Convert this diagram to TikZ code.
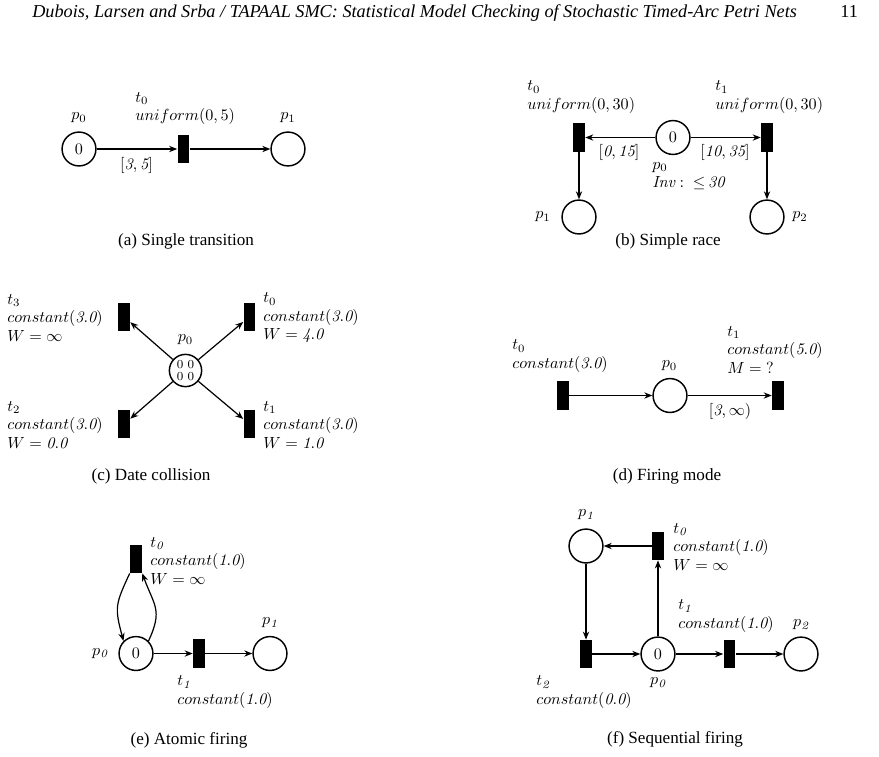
\documentclass[tikz,border=0pt]{standalone}
\usepackage{amsmath,amssymb}
\usepackage{fontspec}
\newfontfamily\capfont{Liberation Serif}
\usetikzlibrary{arrows.meta}

\begin{document}
\begin{tikzpicture}[
  x=0.62pt, y=-0.62pt,
  place/.style={circle, draw, line width=0.9pt, minimum size=21pt,
                inner sep=0pt},
  trans/.style={rectangle, fill=black, minimum width=7.4pt,
                minimum height=17.4pt, inner sep=0pt},
  flow/.style={-{Stealth[length=5pt,width=3.9pt]}, line width=0.75pt},
  lbl/.style={inner sep=0pt},
  infolbl/.style={inner sep=0pt, anchor=west, align=left,
                  font=\fontsize{10}{11.5}\selectfont},
  capt/.style={inner sep=0pt, font=\capfont\fontsize{10.6}{12}\selectfont},
  head/.style={inner sep=0pt, anchor=base west,
               font=\capfont\fontsize{11.3}{13}\selectfont}
]
  \useasboundingbox (0,0) rectangle (879,756);

  % page header
  \node[head] (title) at (32,17) {\itshape Dubois, Larsen and Srba / TAPAAL SMC: Statistical Model Checking of Stochastic Timed-Arc Petri Nets};
  \node[head] (pageno) at (840,17) {11};

  % (a) single transition
  \node[place] (aP0) at (79,149) {0};
  \node[trans] (aT0) at (183.5,149) {};
  \node[place] (aP1) at (288,149) {};
  \node[lbl] (aP0n) at (79,118) {$p_0$};
  \node[lbl] (aP1n) at (288,118) {$p_1$};
  \node[infolbl] (aT0n) at (135,108.5) {$t_0$\\ $uniform(0,5)$};
  \node[lbl] (aG) at (136.5,165) {$[\mathit{3},\mathit{5}]$};
  \draw[flow] (aP0) -- (aT0);
  \draw[flow] (aT0) -- (aP1);
  \node[capt] (aCap) at (186,241) {(a) Single transition};

  % (b) simple race
  \node[place] (bP0) at (673,137.5) {0};
  \node[trans] (bT0) at (579,137.5) {};
  \node[trans] (bT1) at (767,137.5) {};
  \node[place] (bP1) at (579,217) {};
  \node[place] (bP2) at (767,217) {};
  \node[infolbl] (bT0n) at (527,97) {$t_0$\\ $uniform(0,30)$};
  \node[infolbl] (bT1n) at (715,97) {$t_1$\\ $uniform(0,30)$};
  \node[lbl] (bG0) at (619,152) {$[\mathit{0},\mathit{15}]$};
  \node[lbl] (bG1) at (725,152) {$[\mathit{10},\mathit{35}]$};
  \node[infolbl] (bP0n) at (652,176) {$p_0$\\ $\mathit{Inv}:\;{\leq}\,\mathit{30}$};
  \node[lbl] (bP1n) at (543,217) {$p_1$};
  \node[lbl] (bP2n) at (800,217) {$p_2$};
  \draw[flow] (bP0) -- (bT0);
  \draw[flow] (bP0) -- (bT1);
  \draw[flow] (bT0) -- (bP1);
  \draw[flow] (bT1) -- (bP2);
  \node[capt] (bCap) at (668,241) {(b) Simple race};

  % (c) date collision
  \node[place, minimum size=20pt, align=center,
        font=\fontsize{7.6}{7.2}\selectfont] (cP0) at (185.5,370.5) {0 0\\0 0};
  \node[trans] (cT3) at (124,316.7) {};
  \node[trans] (cT0) at (249.5,316.7) {};
  \node[trans] (cT2) at (124,424.2) {};
  \node[trans] (cT1) at (249.5,424.2) {};
  \node[lbl] (cP0n) at (185.5,340) {$p_0$};
  \node[infolbl] (cT3n) at (7,318) {$t_3$\\ $constant(\mathit{3.0})$\\ $W=\infty$};
  \node[infolbl] (cT0n) at (263,318) {$t_0$\\ $constant(\mathit{3.0})$\\ $W=\mathit{4.0}$};
  \node[infolbl] (cT2n) at (7,425) {$t_2$\\ $constant(\mathit{3.0})$\\ $W=\mathit{0.0}$};
  \node[infolbl] (cT1n) at (263,425) {$t_1$\\ $constant(\mathit{3.0})$\\ $W=\mathit{1.0}$};
  \foreach \t in {cT0,cT1,cT2,cT3}
    \draw[flow] (cP0) -- (\t);
  \node[capt] (cCap) at (151,476) {(c) Date collision};

  % (d) firing mode
  \node[trans] (dT0) at (563,395.5) {};
  \node[place] (dP0) at (670,395.5) {};
  \node[trans] (dT1) at (778,395.5) {};
  \node[infolbl] (dT0n) at (512,356) {$t_0$\\ $constant(\mathit{3.0})$};
  \node[infolbl] (dT1n) at (727,350) {$t_1$\\ $constant(\mathit{5.0})$\\ $M={?}$};
  \node[lbl] (dP0n) at (669.5,366) {$p_0$};
  \node[lbl] (dG) at (730,411.7) {$[\mathit{3},\infty)$};
  \draw[flow] (dT0) -- (dP0);
  \draw[flow] (dP0) -- (dT1);
  \node[capt] (dCap) at (667,476) {(d) Firing mode};

  % (e) atomic firing
  \node[trans] (eT0) at (136,559) {};
  \node[place] (eP0) at (136,653.5) {0};
  \node[trans] (eT1) at (199,653.5) {};
  \node[place] (eP1) at (270,653.5) {};
  \node[infolbl] (eT0n) at (150,561) {$t_{\mathit{0}}$\\ $constant(\mathit{1.0})$\\ $W=\infty$};
  \node[lbl] (eP0n) at (100,653.5) {$p_{\mathit{0}}$};
  \node[lbl] (eP1n) at (270,623) {$p_{\mathit{1}}$};
  \node[infolbl] (eT1n) at (177,692) {$t_{\mathit{1}}$\\ $constant(\mathit{1.0})$};
  \draw[flow] (eT0.south west) to[out=245, in=105, looseness=1.3] (eP0.north west);
  \draw[flow] (eP0.north east) to[out=65, in=-70, looseness=1.3] (eT0.south east);
  \draw[flow] (eP0) -- (eT1);
  \draw[flow] (eT1) -- (eP1);
  \node[capt] (eCap) at (189,740) {(e) Atomic firing};

  % (f) sequential firing
  \node[place] (fP1) at (586,546) {};
  \node[trans] (fT0) at (658,546) {};
  \node[trans] (fT2) at (586,654) {};
  \node[place] (fP0) at (658,654) {0};
  \node[trans] (fT1) at (729.5,654) {};
  \node[place] (fP2) at (801,654) {};
  \node[lbl] (fP1n) at (586,515) {$p_{\mathit{1}}$};
  \node[infolbl] (fT0n) at (673,546.7) {$t_{\mathit{0}}$\\ $constant(\mathit{1.0})$\\ $W=\infty$};
  \node[infolbl] (fT1n) at (678,616) {$t_{\mathit{1}}$\\ $constant(\mathit{1.0})$};
  \node[lbl] (fP2n) at (801,625) {$p_{\mathit{2}}$};
  \node[infolbl] (fT2n) at (536,692) {$t_{\mathit{2}}$\\ $constant(\mathit{0.0})$};
  \node[lbl] (fP0n) at (658,683) {$p_{\mathit{0}}$};
  \draw[flow] (fP0) -- (fT0);
  \draw[flow] (fT0) -- (fP1);
  \draw[flow] (fP1) -- (fT2);
  \draw[flow] (fT2) -- (fP0);
  \draw[flow] (fP0) -- (fT1);
  \draw[flow] (fT1) -- (fP2);
  \node[capt] (fCap) at (675,739) {(f) Sequential firing};
\end{tikzpicture}
\end{document}
